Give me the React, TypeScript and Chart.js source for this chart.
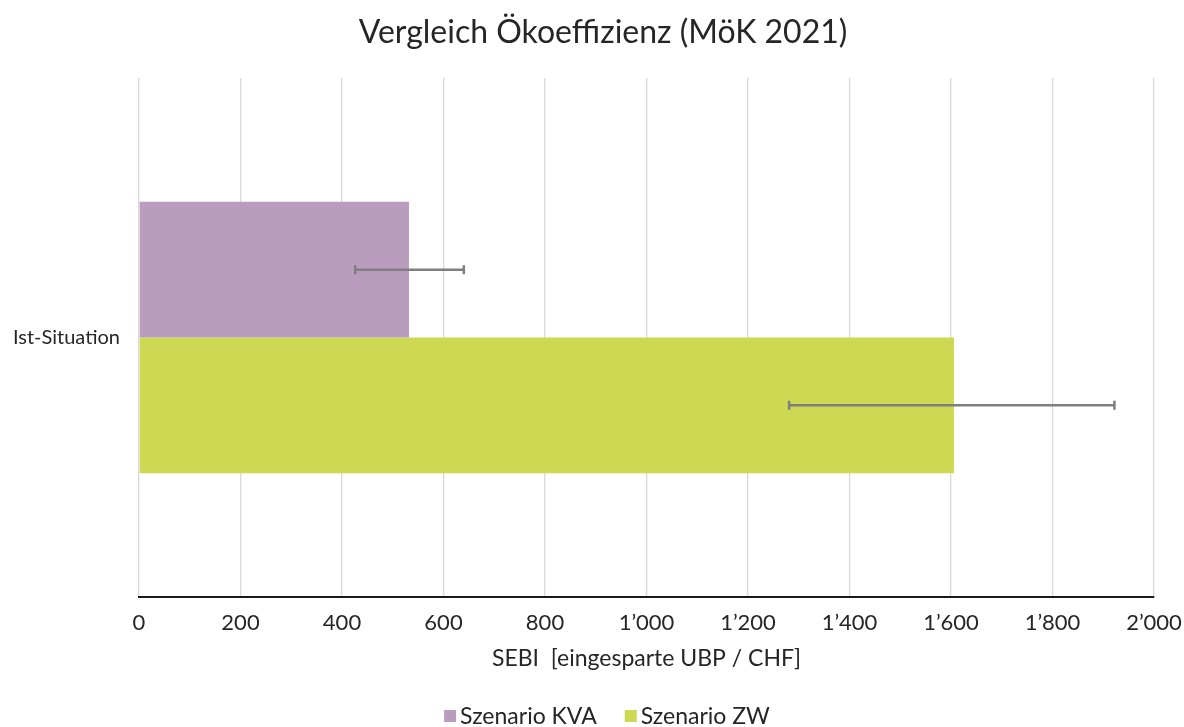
import React, { useEffect, useRef } from "react";
import { Chart, registerables } from "chart.js";

Chart.register(...registerables);

const titleText = "Vergleich Ökoeffizienz (MöK 2021)";
const axisTitle = "SEBI  [eingesparte UBP / CHF]";
const categories = ["Ist-Situation"];
const seriesNames = ["Szenario KVA", "Szenario ZW"];
const seriesColors = ["#ba9dbe", "#cdd853"];
const kvaValues = [532];
const zwValues = [1606];
const kvaErrLow = [426];
const kvaErrHigh = [640];
const zwErrLow = [1281];
const zwErrHigh = [1922];
const tickValues = [0, 200, 400, 600, 800, 1000, 1200, 1400, 1600, 1800, 2000];

const FONT = "Lato, 'Noto Sans', sans-serif";
const TEXT = "#262626";

const fmt = (v: number) => {
  const s = Math.round(v).toString();
  return s.replace(/\B(?=(\d{3})+(?!\d))/g, "\u2019");
};

const errorBarPlugin = {
  id: "errorBars",
  afterDatasetsDraw(chart: any) {
    const ctx = chart.ctx;
    const xs = chart.scales.x;
    const lows = [kvaErrLow, zwErrLow];
    const highs = [kvaErrHigh, zwErrHigh];
    chart.data.datasets.forEach((_: any, i: number) => {
      const meta = chart.getDatasetMeta(i);
      meta.data.forEach((bar: any, j: number) => {
        const x1 = xs.getPixelForValue(lows[i][j]);
        const x2 = xs.getPixelForValue(highs[i][j]);
        const y = bar.y;
        ctx.save();
        ctx.strokeStyle = "#7f7f7f";
        ctx.lineWidth = 2.5;
        ctx.beginPath();
        ctx.moveTo(x1, y);
        ctx.lineTo(x2, y);
        ctx.moveTo(x1, y - 4.5);
        ctx.lineTo(x1, y + 4.5);
        ctx.moveTo(x2, y - 4.5);
        ctx.lineTo(x2, y + 4.5);
        ctx.stroke();
        ctx.restore();
      });
    });
  },
};

const titleLegendPlugin = {
  id: "titleLegend",
  afterDraw(chart: any) {
    const ctx = chart.ctx;
    ctx.save();
    ctx.fillStyle = TEXT;
    ctx.font = `32px ${FONT}`;
    ctx.textAlign = "center";
    ctx.textBaseline = "middle";
    ctx.fillText(titleText, 603, 33);
    ctx.font = `23px ${FONT}`;
    ctx.textAlign = "left";
    const box = 12;
    const gapBoxText = 4;
    const gapItems = 28;
    const items = chart.data.datasets.map((ds: any) => ({
      label: ds.label,
      color: ds.backgroundColor,
      w: box + gapBoxText + ctx.measureText(ds.label).width,
    }));
    const total = items.reduce((a: number, it: any) => a + it.w, 0) + gapItems * (items.length - 1);
    let x = 607 - total / 2;
    const y = 716;
    items.forEach((it: any) => {
      ctx.fillStyle = it.color;
      ctx.fillRect(x, y - box / 2, box, box);
      ctx.fillStyle = TEXT;
      ctx.fillText(it.label, x + box + gapBoxText, y + 1);
      x += it.w + gapItems;
    });
    ctx.restore();
  },
};

export default function App() {
  const ref = useRef<HTMLCanvasElement>(null);
  useEffect(() => {
    if (!ref.current) return;
    const chart = new Chart(ref.current, {
      type: "bar",
      data: {
        labels: categories,
        datasets: [
          {
            label: seriesNames[0],
            data: kvaValues,
            backgroundColor: seriesColors[0],
            categoryPercentage: 0.523,
            barPercentage: 1,
          },
          {
            label: seriesNames[1],
            data: zwValues,
            backgroundColor: seriesColors[1],
            categoryPercentage: 0.523,
            barPercentage: 1,
          },
        ],
      },
      options: {
        indexAxis: "y",
        animation: false,
        responsive: true,
        maintainAspectRatio: false,
        layout: { padding: { left: 0, right: 30, top: 78, bottom: 55 } },
        scales: {
          x: {
            min: 0,
            max: 2000,
            afterBuildTicks: (scale: any) => {
              scale.ticks = tickValues.map((v) => ({ value: v }));
            },
            afterFit: (scale: any) => {
              scale.paddingRight = 0;
              scale.paddingLeft = 0;
            },
            grid: { color: "#d9d9d9", lineWidth: 1.3, drawTicks: false },
            border: { display: true, color: "#1a1a1a", width: 2 },
            ticks: {
              color: TEXT,
              font: { family: FONT, size: 22 },
              padding: 13,
              maxRotation: 0,
              callback: (v: any) => fmt(Number(v)),
            },
            title: {
              display: true,
              text: axisTitle,
              color: TEXT,
              font: { family: FONT, size: 23 },
              padding: { top: -5, bottom: 0 },
            },
          },
          y: {
            grid: { display: false, drawTicks: false },
            border: { display: false },
            afterFit: (scale: any) => {
              scale.width = 139;
            },
            ticks: {
              color: TEXT,
              font: { family: FONT, size: 20 },
              padding: 19,
            },
          },
        },
        plugins: {
          title: { display: false },
          legend: { display: false },
          tooltip: { enabled: false },
        },
      },
      plugins: [errorBarPlugin, titleLegendPlugin],
    });
    return () => chart.destroy();
  }, []);
  return (
    <div style={{ position: "fixed", left: 0, top: 0, width: 1184, height: 727, background: "#fff" }}>
      <canvas ref={ref} />
    </div>
  );
}
